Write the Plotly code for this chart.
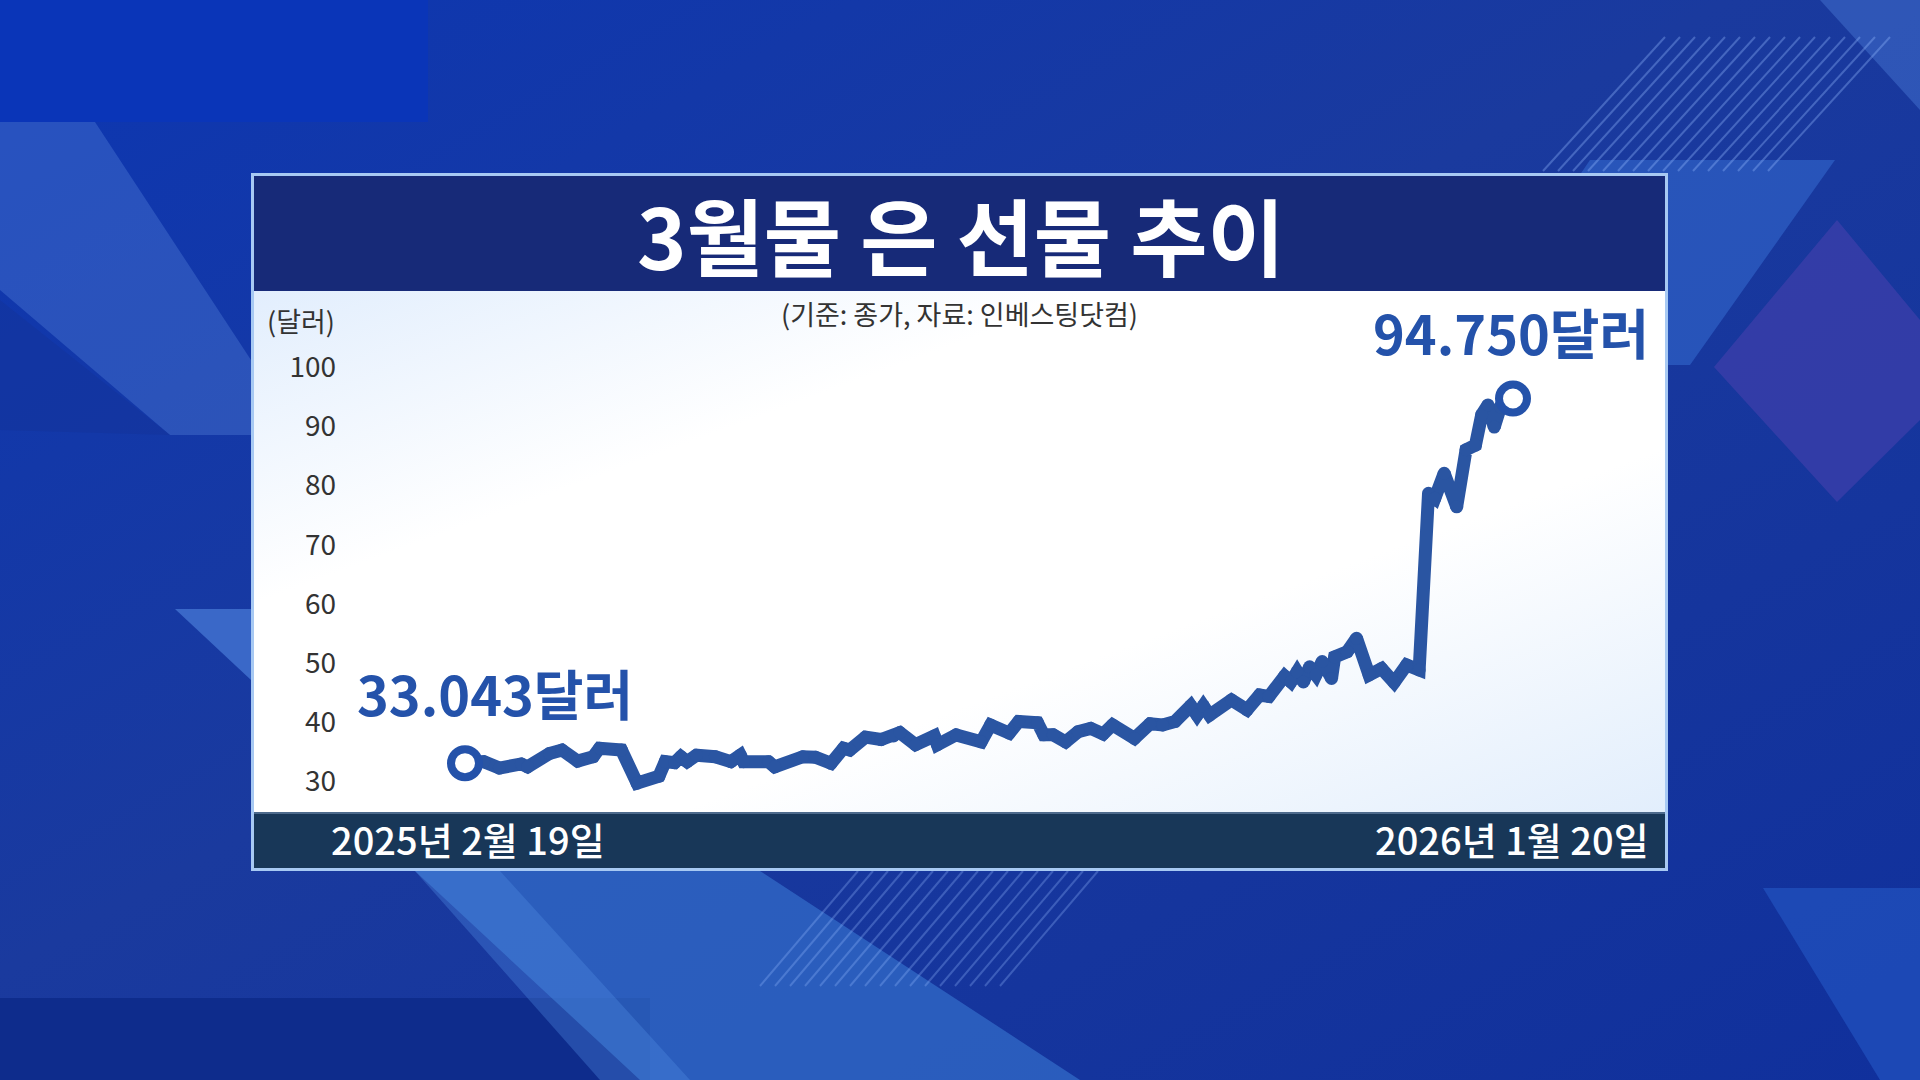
import base64

import plotly.graph_objects as go

# 캔버스 / 플롯 영역 (px)
W, H = 1920, 1080
PLOT_L, PLOT_R, PLOT_T, PLOT_B = 465, 1513, 291, 812

dates = [
    "2025-02-19", "2025-02-25", "2025-03-02", "2025-03-09", "2025-03-11", "2025-03-18",
    "2025-03-22", "2025-03-27", "2025-04-01", "2025-04-03", "2025-04-10", "2025-04-15",
    "2025-04-22", "2025-04-24", "2025-04-27", "2025-04-29", "2025-05-01", "2025-05-04",
    "2025-05-10", "2025-05-15", "2025-05-18", "2025-05-19", "2025-05-27", "2025-05-29",
    "2025-06-07", "2025-06-11", "2025-06-16", "2025-06-20", "2025-06-22", "2025-06-27",
    "2025-07-02", "2025-07-06", "2025-07-08", "2025-07-13", "2025-07-19", "2025-07-20",
    "2025-07-26", "2025-08-03", "2025-08-06", "2025-08-12", "2025-08-15", "2025-08-21",
    "2025-08-23", "2025-08-26", "2025-08-30", "2025-09-03", "2025-09-07", "2025-09-11",
    "2025-09-14", "2025-09-21", "2025-09-26", "2025-09-30", "2025-10-04", "2025-10-09",
    "2025-10-11", "2025-10-13", "2025-10-15", "2025-10-22", "2025-10-27", "2025-10-31",
    "2025-11-03", "2025-11-08", "2025-11-10", "2025-11-12", "2025-11-14", "2025-11-16",
    "2025-11-18", "2025-11-20", "2025-11-23", "2025-11-24", "2025-11-28", "2025-12-01",
    "2025-12-05", "2025-12-09", "2025-12-13", "2025-12-17", "2025-12-21", "2025-12-24",
    "2025-12-26", "2025-12-29", "2026-01-02", "2026-01-05", "2026-01-08", "2026-01-10",
    "2026-01-12", "2026-01-14", "2026-01-16", "2026-01-20",
]
prices = [
    33.043, 33.30, 32.22, 32.91, 32.42, 34.68,
    35.27, 33.40, 34.14, 35.57, 35.27, 29.66,
    30.84, 33.30, 33.11, 34.14, 33.30, 34.39,
    34.14, 33.30, 34.39, 33.30, 33.30, 32.42,
    34.14, 34.04, 33.01, 35.57, 35.27, 37.44,
    37.04, 37.64, 38.23, 36.16, 37.64, 36.16,
    37.83, 36.65, 39.51, 38.13, 40.10, 39.90,
    37.83, 37.83, 36.65, 38.37, 38.92, 37.98,
    39.51, 37.24, 39.70, 39.51, 40.10, 42.75,
    41.18, 42.75, 41.18, 43.74, 42.07, 44.58,
    44.33, 47.78, 46.79, 48.51, 46.79, 49.35,
    47.97, 50.24, 47.38, 51.02, 51.91, 54.17,
    47.97, 49.05, 46.69, 49.65, 48.81, 78.69,
    77.85, 82.08, 76.42, 86.07, 86.86, 91.98,
    93.65, 89.91, 93.31, 94.75,
]
y_ticks = [30, 40, 50, 60, 70, 80, 90, 100]

title_text = "3월물 은 선물 추이"
source_text = "(기준: 종가, 자료: 인베스팅닷컴)"
unit_text = "(달러)"
start_label = "33.043달러"
end_label = "94.750달러"
start_date_label = "2025년 2월 19일"
end_date_label = "2026년 1월 20일"

C = {
    "line": "#2a55a2",
    "label": "#2452aa",
    "tick": "#333333",
    "title_bg": "#172a78",
    "band": "#183758",
    "border": "#a7c9f3",
}
FONT = "Noto Sans CJK KR, Noto Sans, sans-serif"


def px(x):
    return (x - PLOT_L) / (PLOT_R - PLOT_L)


def py(y):
    return (PLOT_B - y) / (PLOT_B - PLOT_T)


# 배경 (방송 그래픽 느낌의 파란 배경 + 패널)
stripes_top = "".join(
    f"<line x1='{x + 122}' y1='37' x2='{x}' y2='171' stroke='rgba(150,185,255,0.35)' stroke-width='2'/>"
    for x in range(1543, 1775, 15)
)
stripes_bot = "".join(
    f"<line x1='{x + 98}' y1='871' x2='{x}' y2='986' stroke='rgba(150,185,255,0.3)' stroke-width='2'/>"
    for x in range(760, 1010, 15)
)
svg = f"""<svg xmlns='http://www.w3.org/2000/svg' width='{W}' height='{H}'>
<defs>
<linearGradient id='bg' x1='0' y1='0' x2='1' y2='1'>
<stop offset='0' stop-color='#0c36b2'/><stop offset='0.45' stop-color='#1a3a9e'/><stop offset='1' stop-color='#10309c'/>
</linearGradient>
<linearGradient id='wp' x1='0' y1='0' x2='1' y2='1'>
<stop offset='0' stop-color='#e2eefd'/><stop offset='0.3' stop-color='#ffffff'/>
<stop offset='0.65' stop-color='#ffffff'/><stop offset='1' stop-color='#e2eefc'/>
</linearGradient>
</defs>
<rect width='{W}' height='{H}' fill='url(#bg)'/>
<rect x='0' y='0' width='428' height='122' fill='#0a35b8'/>
<polygon points='0,122 0,290 170,435 251,435 251,360 95,122' fill='rgba(90,135,220,0.35)'/>
<polygon points='0,300 0,430 170,435' fill='rgba(20,50,150,0.4)'/>
<polygon points='175,609 251,609 251,680' fill='#3a68c8'/>
<rect x='0' y='998' width='650' height='82' fill='#0e2c8c'/>
<polygon points='415,871 760,871 1080,1080 640,1080' fill='rgba(60,125,215,0.55)'/>
<polygon points='415,871 500,871 690,1080 600,1080' fill='rgba(80,140,225,0.35)'/>
<polygon points='1590,160 1835,160 1690,365 1450,365' fill='rgba(60,120,220,0.45)'/>
<polygon points='1714,367 1837,220 1920,320 1920,420 1837,502' fill='rgba(75,65,175,0.55)'/>
<polygon points='1763,888 1920,888 1920,1080 1880,1080' fill='rgba(40,95,205,0.5)'/>
<polygon points='1820,0 1920,0 1920,110' fill='rgba(90,140,230,0.35)'/>
{stripes_top}{stripes_bot}
<rect x='251' y='173' width='1417' height='698' fill='{C["border"]}'/>
<rect x='254' y='176' width='1411' height='115' fill='{C["title_bg"]}'/>
<rect x='254' y='291' width='1411' height='521' fill='url(#wp)'/>
<rect x='254' y='812' width='1411' height='56' fill='{C["band"]}'/>
<rect x='254' y='812' width='1411' height='2' fill='#4d6a8c'/>
</svg>"""
bg_uri = "data:image/svg+xml;base64," + base64.b64encode(svg.encode("utf-8")).decode("ascii")

fig = go.Figure()

fig.add_trace(
    go.Scatter(
        x=dates,
        y=prices,
        mode="lines+markers",
        line=dict(color=C["line"], width=13),
        marker=dict(size=13, color=C["line"]),
        showlegend=False,
        hoverinfo="skip",
        cliponaxis=False,
    )
)
# 시작/끝 지점 원형 마커
fig.add_trace(
    go.Scatter(
        x=[dates[0], dates[-1]],
        y=[prices[0], prices[-1]],
        mode="markers",
        marker=dict(size=28, color="white", line=dict(color=C["label"], width=8)),
        showlegend=False,
        hoverinfo="skip",
        cliponaxis=False,
    )
)

annotations = [
    dict(x=px(961), y=py(233), text=title_text,
         font=dict(size=84, color="white", family=FONT, weight=700)),
    dict(x=px(959), y=py(313), text=source_text,
         font=dict(size=27, color=C["tick"], family=FONT)),
    dict(x=px(301), y=py(320), text=unit_text,
         font=dict(size=27, color=C["tick"], family=FONT)),
    dict(x=px(355), y=py(692), text=start_label, xanchor="left",
         font=dict(size=54, color=C["label"], family=FONT, weight=700)),
    dict(x=px(1651), y=py(331), text=end_label, xanchor="right",
         font=dict(size=54, color=C["label"], family=FONT, weight=700)),
    dict(x=px(329), y=py(838), text=start_date_label, xanchor="left",
         font=dict(size=38, color="white", family=FONT, weight=500)),
    dict(x=px(1651), y=py(838), text=end_date_label, xanchor="right",
         font=dict(size=38, color="white", family=FONT, weight=500)),
]
for a in annotations:
    a.setdefault("xanchor", "center")
    a.update(xref="paper", yref="paper", yanchor="middle", showarrow=False)

fig.update_layout(
    width=W,
    height=H,
    margin=dict(l=PLOT_L, r=W - PLOT_R, t=PLOT_T, b=H - PLOT_B, pad=0),
    paper_bgcolor="#1a3a9e",
    plot_bgcolor="rgba(0,0,0,0)",
    showlegend=False,
    annotations=annotations,
    images=[
        dict(
            source=bg_uri,
            xref="paper",
            yref="paper",
            x=-PLOT_L / (PLOT_R - PLOT_L),
            y=1 + PLOT_T / (PLOT_B - PLOT_T),
            sizex=W / (PLOT_R - PLOT_L),
            sizey=H / (PLOT_B - PLOT_T),
            xanchor="left",
            yanchor="top",
            sizing="stretch",
            layer="below",
        )
    ],
)
fig.update_xaxes(
    type="date",
    range=[dates[0], dates[-1]],
    visible=False,
    fixedrange=True,
)
fig.update_yaxes(
    range=[24.78, 112.93],
    tickvals=y_ticks,
    ticktext=[str(v) for v in y_ticks],
    showgrid=False,
    zeroline=False,
    showline=False,
    ticks="",
    ticklabelstandoff=128,
    tickfont=dict(size=28, color=C["tick"], family=FONT),
    fixedrange=True,
)

fig.write_html(
    "out.html",
    config={"displayModeBar": False},
    post_script="document.body.style.margin='0';document.body.style.overflow='hidden';",
)
